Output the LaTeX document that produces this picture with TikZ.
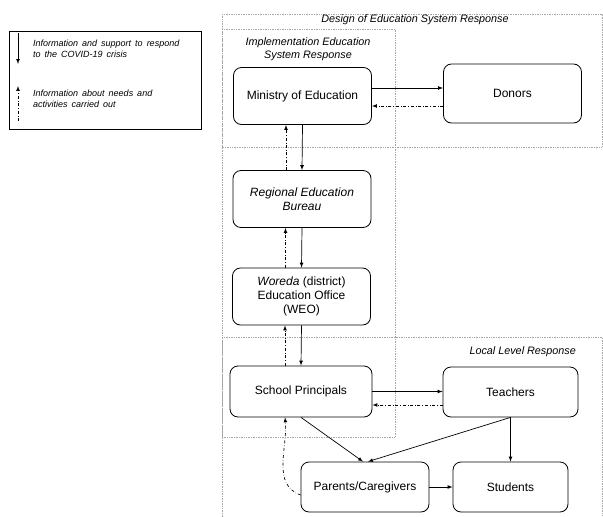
\documentclass[tikz,border=0pt]{standalone}
\usepackage{fontspec}
\setmainfont{Liberation Sans}
\usepackage{tikz}
\usetikzlibrary{arrows}
\usetikzlibrary{positioning}
\usetikzlibrary{calc}
\newcommand{\bnode}[4][]{\node(#2)[item,#1] at (#3) {#4}}
\newcommand{\zonetitle}[3][]{\node[ztitle,#1] at (#2) {#3}}

\begin{document}
\begin{tikzpicture}[
        x=1pt, y=-1pt,
        every node/.style={font=\fontsize{12}{14}\selectfont},
        item/.style={rectangle,minimum height=57pt,minimum width=138pt,
                     rounded corners=8pt,draw=black,line width=0.8pt,align=center},
        region/.style={draw=gray!70,densely dotted,line width=0.7pt},
        ztitle/.style={font=\fontsize{10.8}{12.8}\selectfont\itshape,align=center,inner sep=0pt},
        legtext/.style={font=\fontsize{9}{11}\selectfont\itshape,align=left,inner sep=0pt,anchor=west},
        flow/.style={-latex,line width=0.7pt},
        feedback/.style={-latex,dash dot,line width=0.7pt}
      ]
      \useasboundingbox (0,0) rectangle (603,517);

      % zones
      \draw[region] (222,14) rectangle (602,147);
      \draw[region] (222,29) rectangle (395,437);
      \draw[region] (222,517) -- (222,337) -- (602,337) -- (602,517);
      \zonetitle{415,20}{Design of Education System Response};
      \zonetitle{308,49.5}{Implementation Education\\System Response};
      \zonetitle[anchor=east]{576,352}{Local Level Response};

      % legend
      \draw[line width=1pt] (9,31) rectangle (201,129);
      \coordinate (l1a) at (18,33);
      \coordinate (l1b) at (18,64);
      \coordinate (l2a) at (18,121);
      \coordinate (l2b) at (18,86);
      \draw[flow] (l1a) -- (l1b);
      \draw[feedback] (l2a) -- (l2b);
      \node[legtext] (leg1) at (33,48.5) {Information\, and\, support\, to\, respond\\to\, the\, COVID-19\, crisis};
      \node[legtext] (leg2) at (33,99) {Information\, about\, needs\, and\\activities\, carried\, out};

      % actors
      \bnode{min}{302.5,96}{Ministry of Education};
      \bnode[minimum height=59pt]{don}{512.5,93.5}{Donors};
      \bnode{reg}{302,199}{\itshape Regional Education\\\itshape Bureau};
      \bnode{weo}{301.5,296.5}{\textit{Woreda} (district)\\Education Office\\(WEO)};
      \bnode[minimum width=142pt,minimum height=51pt]{sp}{301,391.5}{School Principals};
      \bnode[minimum width=135pt,minimum height=50pt]{tea}{510.5,392}{Teachers};
      \bnode[minimum width=128pt,minimum height=50pt]{par}{365,487}{Parents/Caregivers};
      \bnode[minimum width=115pt,minimum height=50pt]{stu}{510.5,487}{Students};

      % information and support
      \draw[flow] ([yshift=8pt]min.east) -- ([yshift=8pt]min.east -| don.west);
      \draw[flow] (min.south) -- (reg.north);
      \draw[flow] (reg.south) -- (weo.north);
      \draw[flow] (weo.south) -- (sp.north);
      \draw[flow] (sp.east) -- (sp.east -| tea.west);
      \draw[flow] (sp.south) -- ([xshift=-2pt]par.north);
      \draw[flow] (tea.south) -- ([xshift=3pt]par.north);
      \draw[flow] (tea.south) -- (stu.north);
      \draw[flow] (par.east) -- (stu.west);

      % information about needs
      \draw[feedback] ([yshift=-12.5pt]don.west) -- ([yshift=-12.5pt]don.west -| min.east);
      \draw[feedback] ([xshift=-16pt]reg.north) -- ([xshift=-16pt]reg.north |- min.south);
      \draw[feedback] ([xshift=-16pt]weo.north) -- ([xshift=-16pt]weo.north |- reg.south);
      \draw[feedback] ([xshift=-16pt]sp.north) -- ([xshift=-16pt]sp.north |- weo.south);
      \draw[feedback] ([yshift=-13pt]tea.west) -- ([yshift=-13pt]tea.west -| sp.east);
      \draw[feedback] ([yshift=-8pt]par.west) to[out=160,in=-85] ([xshift=-16pt]sp.south);
    \end{tikzpicture}
\end{document}
